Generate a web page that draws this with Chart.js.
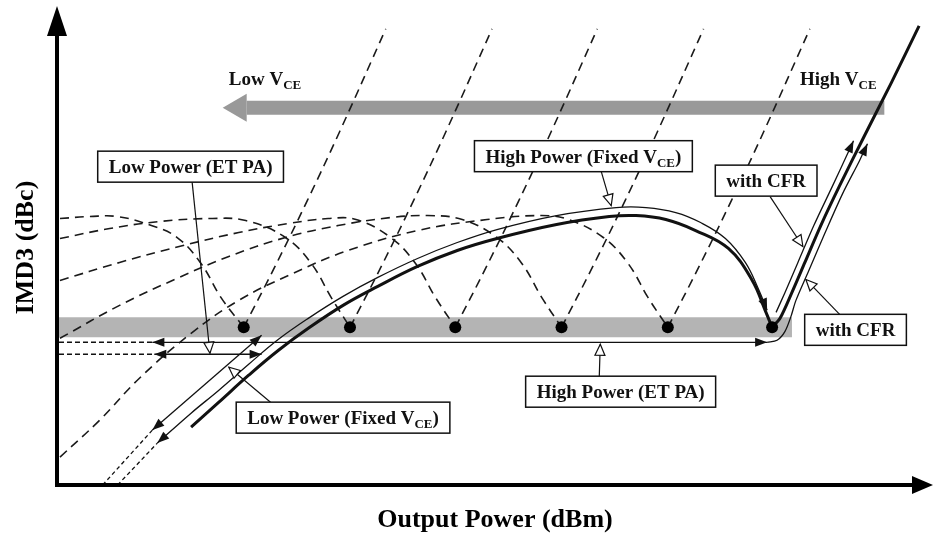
<!DOCTYPE html>
<html>
<head>
<meta charset="utf-8">
<script src="https://cdn.jsdelivr.net/npm/chart.js@4.4.1/dist/chart.umd.min.js"></script>
<style>
  html, body { margin: 0; padding: 0; background: #fff; }
  canvas { display: block; }
</style>
</head>
<body>
<canvas id="imd3" width="939" height="538"></canvas>
<script>
// Schematic IMD3 vs output power. Units are arbitrary (no ticks in the figure):
// x = output power 0..882, y = IMD3 0..480.

// sweet-spot nulls of the fixed-VCE curves (last one is the solid high-VCE curve)
const nullX = [188, 295, 401, 508, 615, 720];
const nullY = 158;

// dashed fixed-VCE curves, split at the null (left part / steep right part)
const vce1Left = [[3, 267], [33, 269], [61, 269], [95, 260], [121, 248], [145, 222], [165, 188], [188, 158]];
const vce1Right = [[188, 158], [219, 218], [252, 285], [285, 355], [331, 457]];
const vce2Left = [[3, 247], [53, 257], [103, 264], [153, 267], [190, 265], [230, 248], [256, 222], [276, 188], [295, 158]];
const vce2Right = [[295, 158], [326, 218], [359, 285], [392, 355], [438, 457]];
const vce3Left = [[3, 205], [63, 223], [123, 239], [183, 253], [233, 262], [273, 267], [301, 266], [336, 248], [361, 222], [381, 188], [401, 158]];
const vce3Right = [[401, 158], [432, 218], [465, 285], [498, 355], [544, 457]];
const vce4Left = [[3, 147], [63, 180], [123, 208], [173, 229], [230, 248], [283, 260], [336, 268], [373, 270], [408, 266], [443, 248], [468, 222], [488, 188], [508, 158]];
const vce4Right = [[508, 158], [539, 218], [572, 285], [605, 355], [651, 457]];
const vce5Left = [[3, 28], [43, 65], [83, 107], [135, 152], [183, 185], [233, 210], [293, 235], [363, 255], [433, 266], [488, 270], [515, 266], [550, 248], [575, 222], [595, 188], [615, 158]];
const vce5Right = [[615, 158], [646, 218], [679, 285], [712, 355], [758, 457]];

// solid high-VCE curve
const fixedLeft = [[135, 58], [163, 83], [193, 110], [223, 135], [253, 157], [288, 180], [323, 199], [363, 219], [403, 235], [443, 247], [503, 261], [556, 269], [583, 270], [613, 266], [643, 255], [676, 237], [700, 205], [713, 175], [720, 158]];
const fixedRight = [[720, 158], [728, 167], [740, 193], [753, 223], [769, 260], [788, 300], [813, 350], [840, 403], [868, 460]];

// operating paths (thin arrows)
const fixedPath = [[101, 42], [135, 72], [163, 95], [193, 121], [223, 146], [253, 167], [288, 189], [323, 208], [363, 227], [403, 243], [443, 256], [503, 270], [563, 278], [593, 278], [623, 273], [648, 263], [673, 247], [693, 223], [706, 197], [715, 175]];
const fixedPathTail = [[61, 0], [101, 42]];
const lowFixedPath = [[96, 55], [206, 150]];
const lowFixedTail = [[46, 0], [96, 55]];
const etHighPath = [[96, 143], [715, 143]];
const etHighTail = [[2, 143], [96, 143]];
const etLowPath = [[98, 131], [206, 131]];
const etLowTail = [[2, 131], [98, 131]];
const cfrOuterPath = [[715, 143], [725, 145], [733, 154], [739, 169], [744, 185], [757, 215], [773, 252], [791, 292], [808, 325], [816, 342]];
const cfrInnerPath = [[724, 173], [733, 193], [746, 223], [762, 260], [781, 300], [795, 330], [802, 345]];

// sweet-spot band and VCE direction arrow
const sweetBand = [[0, 158], [740, 158]];
const vceArrow = [[833, 378], [191, 378]];

// callout labels: text, box centre, pointer line (box -> tip)
const labelText = ['Low Power (ET PA)', 'High Power (Fixed V_{CE})', 'with CFR', 'with CFR', 'High Power (ET PA)', 'Low Power (Fixed V_{CE})'];
const labelAt = [[134.5, 319], [530, 329.5], [714, 305], [804, 155.5], [567.5, 93.5], [288, 67.5]];
const labelPointer = [
  [[136, 304], [154, 132]],
  [[548, 314], [558, 280]],
  [[718, 289], [751, 239]],
  [[788, 171], [754, 206]],
  [[546, 109], [547, 141]],
  [[215, 83], [173, 118]]
];
const vceText = ['Low V_{CE}', 'High V_{CE}'];
const vceTextAt = [[173, 401], [748, 401]];
const xTitle = 'Output Power (dBm)';
const yTitle = 'IMD3 (dBc)';

const FONT = '"Liberation Serif", "Times New Roman", serif';
const INK = '#111';

function pts(list) {
  return list.map(([x, y]) => ({ x, y }));
}

function line(list, extra) {
  return Object.assign({
    data: pts(list),
    showLine: true,
    pointRadius: 0,
    pointHoverRadius: 0,
    borderColor: INK,
    borderWidth: 1.3,
    tension: 0.4,
    clip: false,
    order: 10
  }, extra || {});
}

const dashed = { borderWidth: 1.6, borderDash: [9, 6], borderColor: '#1a1a1a', order: 50 };
const dotted = { borderWidth: 1.3, borderDash: [4, 3], tension: 0, order: 30 };

const datasets = [
  line(sweetBand, { borderColor: '#b4b4b4', borderWidth: 20, tension: 0, order: 100, borderCapStyle: 'butt' }),
  line(vceArrow, { borderColor: '#999999', borderWidth: 14, tension: 0, order: 99, borderCapStyle: 'butt', bigHead: true }),
  line(vce1Left, dashed), line(vce1Right, dashed),
  line(vce2Left, dashed), line(vce2Right, dashed),
  line(vce3Left, dashed), line(vce3Right, dashed),
  line(vce4Left, dashed), line(vce4Right, dashed),
  line(vce5Left, dashed), line(vce5Right, dashed),
  line(fixedLeft, { borderWidth: 3, order: 20 }),
  line(fixedRight, { borderWidth: 3, order: 20, tension: 0.3 }),
  line(fixedPath, { arrowStart: true, arrowEnd: true }),
  line(fixedPathTail, dotted),
  line(lowFixedPath, { tension: 0, arrowStart: true, arrowEnd: true }),
  line(lowFixedTail, dotted),
  line(etHighPath, { tension: 0, arrowStart: true, arrowEnd: true }),
  line(etHighTail, { borderWidth: 1.4, borderDash: [5, 3], tension: 0, order: 30 }),
  line(etLowPath, { tension: 0, arrowStart: true, arrowEnd: true }),
  line(etLowTail, { borderWidth: 1.4, borderDash: [5, 3], tension: 0, order: 30 }),
  line(cfrOuterPath, { arrowEnd: true, tension: 0.3 }),
  line(cfrInnerPath, { arrowEnd: true, tension: 0.3 }),
  ...labelPointer.map(p => line(p, { borderWidth: 1.2, tension: 0, hollowEnd: true, order: 5 })),
  {
    data: nullX.map(x => ({ x, y: nullY })),
    showLine: false,
    pointRadius: 6,
    pointHoverRadius: 6,
    backgroundColor: '#000',
    borderWidth: 0,
    clip: false,
    order: 0
  }
];

function tri(ctx, tip, ang, len, half) {
  const c = Math.cos(ang), s = Math.sin(ang);
  const bx = tip.x - len * c, by = tip.y - len * s;
  ctx.beginPath();
  ctx.moveTo(tip.x, tip.y);
  ctx.lineTo(bx + half * s, by - half * c);
  ctx.lineTo(bx - half * s, by + half * c);
  ctx.closePath();
}

function richText(ctx, text, x, y, size, align) {
  const parts = text.split(/_\{([^}]*)\}/);
  const fontFor = i => `bold ${i % 2 ? Math.round(size * 0.68) : size}px ${FONT}`;
  let w = 0;
  parts.forEach((p, i) => { ctx.font = fontFor(i); w += ctx.measureText(p).width; });
  let cx = align === 'center' ? x - w / 2 : x;
  parts.forEach((p, i) => {
    ctx.font = fontFor(i);
    ctx.fillText(p, cx, y + (i % 2 ? size * 0.22 : 0));
    cx += ctx.measureText(p).width;
  });
  return w;
}

function textWidth(ctx, text, size) {
  const parts = text.split(/_\{([^}]*)\}/);
  let w = 0;
  parts.forEach((p, i) => {
    ctx.font = `bold ${i % 2 ? Math.round(size * 0.68) : size}px ${FONT}`;
    w += ctx.measureText(p).width;
  });
  return w;
}

const sketchPlugin = {
  id: 'sketch',
  beforeDatasetsDraw(chart) {
    const ctx = chart.ctx;
    chart.data.datasets.forEach((ds, i) => {
      if (!ds.bigHead) return;
      const pts = chart.getDatasetMeta(i).data;
      const a = pts[pts.length - 2], b = pts[pts.length - 1];
      const ang = Math.atan2(b.y - a.y, b.x - a.x);
      const len = 24;
      const tip = { x: b.x + len * Math.cos(ang), y: b.y + len * Math.sin(ang) };
      ctx.save();
      ctx.fillStyle = ds.borderColor;
      tri(ctx, tip, ang, len, 14);
      ctx.fill();
      ctx.restore();
    });
  },
  afterDatasetsDraw(chart) {
    const ctx = chart.ctx;
    const xs = chart.scales.x, ys = chart.scales.y;
    const px = p => ({ x: xs.getPixelForValue(p[0]), y: ys.getPixelForValue(p[1]) });
    ctx.save();

    // arrowheads on the operating paths and pointers
    chart.data.datasets.forEach((ds, i) => {
      const el = chart.getDatasetMeta(i).data;
      if (el.length < 2) return;
      const n = el.length;
      if (ds.arrowEnd) {
        ctx.fillStyle = INK;
        tri(ctx, el[n - 1], Math.atan2(el[n - 1].y - el[n - 2].y, el[n - 1].x - el[n - 2].x), 12, 4.5);
        ctx.fill();
      }
      if (ds.arrowStart) {
        ctx.fillStyle = INK;
        tri(ctx, el[0], Math.atan2(el[0].y - el[1].y, el[0].x - el[1].x), 12, 4.5);
        ctx.fill();
      }
      if (ds.hollowEnd) {
        ctx.fillStyle = '#fff';
        ctx.strokeStyle = INK;
        ctx.lineWidth = 1.2;
        tri(ctx, el[n - 1], Math.atan2(el[n - 1].y - el[n - 2].y, el[n - 1].x - el[n - 2].x), 11, 5);
        ctx.fill();
        ctx.stroke();
      }
    });

    // callout boxes
    ctx.textAlign = 'left';
    ctx.textBaseline = 'alphabetic';
    labelText.forEach((t, i) => {
      const c = px(labelAt[i]);
      const w = textWidth(ctx, t, 19) + 22;
      const h = 31;
      ctx.fillStyle = '#fff';
      ctx.strokeStyle = INK;
      ctx.lineWidth = 1.5;
      ctx.fillRect(c.x - w / 2, c.y - h / 2, w, h);
      ctx.strokeRect(c.x - w / 2, c.y - h / 2, w, h);
      ctx.fillStyle = INK;
      richText(ctx, t, c.x, c.y + 6.5, 19, 'center');
    });

    // Low / High VCE captions
    ctx.fillStyle = INK;
    vceText.forEach((t, i) => {
      const p = px(vceTextAt[i]);
      richText(ctx, t, p.x, p.y, 19, 'left');
    });

    // axes with arrowheads
    const left = xs.getPixelForValue(0), right = xs.getPixelForValue(882);
    const bottom = ys.getPixelForValue(0), top = ys.getPixelForValue(480);
    ctx.strokeStyle = '#000';
    ctx.fillStyle = '#000';
    ctx.lineWidth = 4;
    ctx.beginPath();
    ctx.moveTo(left, bottom + 2);
    ctx.lineTo(left, top + 28);
    ctx.moveTo(left - 2, bottom);
    ctx.lineTo(right - 19, bottom);
    ctx.stroke();
    tri(ctx, { x: left, y: top }, -Math.PI / 2, 30, 10);
    ctx.fill();
    tri(ctx, { x: right, y: bottom }, 0, 21, 9);
    ctx.fill();

    // axis titles
    ctx.font = `bold 26px ${FONT}`;
    ctx.textAlign = 'center';
    ctx.textBaseline = 'middle';
    ctx.fillText(xTitle, (left + right) / 2, bottom + 35);
    ctx.save();
    ctx.translate(left - 31, (top + bottom) / 2 + 2);
    ctx.rotate(-Math.PI / 2);
    ctx.fillText(yTitle, 0, 0);
    ctx.restore();

    ctx.restore();
  }
};

new Chart(document.getElementById('imd3'), {
  type: 'scatter',
  data: { datasets },
  options: {
    responsive: false,
    animation: false,
    events: [],
    layout: { padding: { left: 57, right: 0, top: 5, bottom: 53 } },
    scales: {
      x: { type: 'linear', min: 0, max: 882, display: false },
      y: { type: 'linear', min: 0, max: 480, display: false }
    },
    plugins: {
      legend: { display: false },
      tooltip: { enabled: false }
    }
  },
  plugins: [sketchPlugin]
});
</script>
</body>
</html>
